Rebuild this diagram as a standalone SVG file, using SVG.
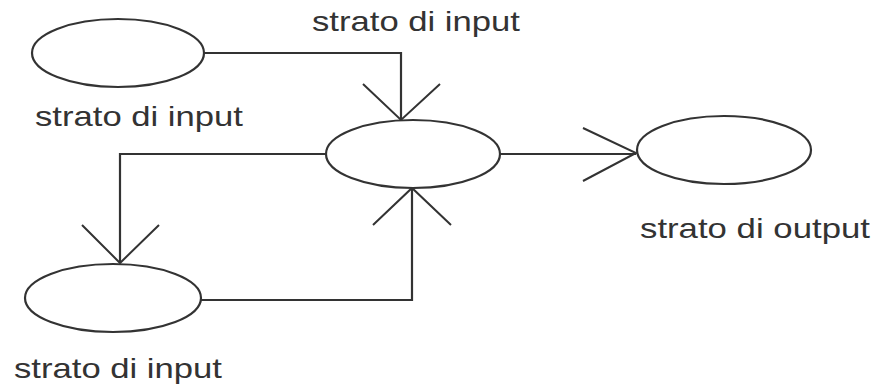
<svg xmlns="http://www.w3.org/2000/svg" width="875" height="384" viewBox="0 0 875 384">
  <style>
    .node { fill: #ffffff; stroke: #333333; stroke-width: 2.2; }
    .wire { fill: none; stroke: #333333; stroke-width: 2.2; }
    .head { fill: none; stroke: #333333; stroke-width: 2; }
    .label { font-family: "Liberation Sans", Arial, sans-serif; font-size: 28px; fill: #333333; }
  </style>
  <rect width="875" height="384" fill="#ffffff"/>

  <!-- connectors -->
  <g id="connectors">
    <!-- top input to hidden -->
    <path class="wire" d="M203,53 H401 V120"/>
    <path class="head" d="M363,84 L401,120 L440,84"/>
    <!-- hidden back to context -->
    <path class="wire" d="M326,154 H120 V263"/>
    <path class="head" d="M82,225 L120,263 L159,225"/>
    <!-- context to hidden -->
    <path class="wire" d="M200,300 H412 V188"/>
    <path class="head" d="M373,225 L412,188 L451,225"/>
    <!-- hidden to output -->
    <path class="wire" d="M501,154 H636"/>
    <path class="head" d="M583,128 L636,153 L583,181"/>
  </g>

  <g id="input-top">
    <ellipse class="node" cx="118" cy="53" rx="86" ry="34"/>
    <text class="label" x="35" y="126" textLength="208" lengthAdjust="spacingAndGlyphs">strato di input</text>
  </g>

  <g id="hidden">
    <ellipse class="node" cx="413" cy="154" rx="87" ry="34"/>
    <text class="label" x="312" y="31" textLength="208" lengthAdjust="spacingAndGlyphs">strato di input</text>
  </g>

  <g id="context">
    <ellipse class="node" cx="113" cy="298" rx="88" ry="34"/>
    <text class="label" x="14" y="378" textLength="208" lengthAdjust="spacingAndGlyphs">strato di input</text>
  </g>

  <g id="output">
    <ellipse class="node" cx="724" cy="150" rx="87" ry="34"/>
    <text class="label" x="640" y="238" textLength="230" lengthAdjust="spacingAndGlyphs">strato di output</text>
  </g>
</svg>
